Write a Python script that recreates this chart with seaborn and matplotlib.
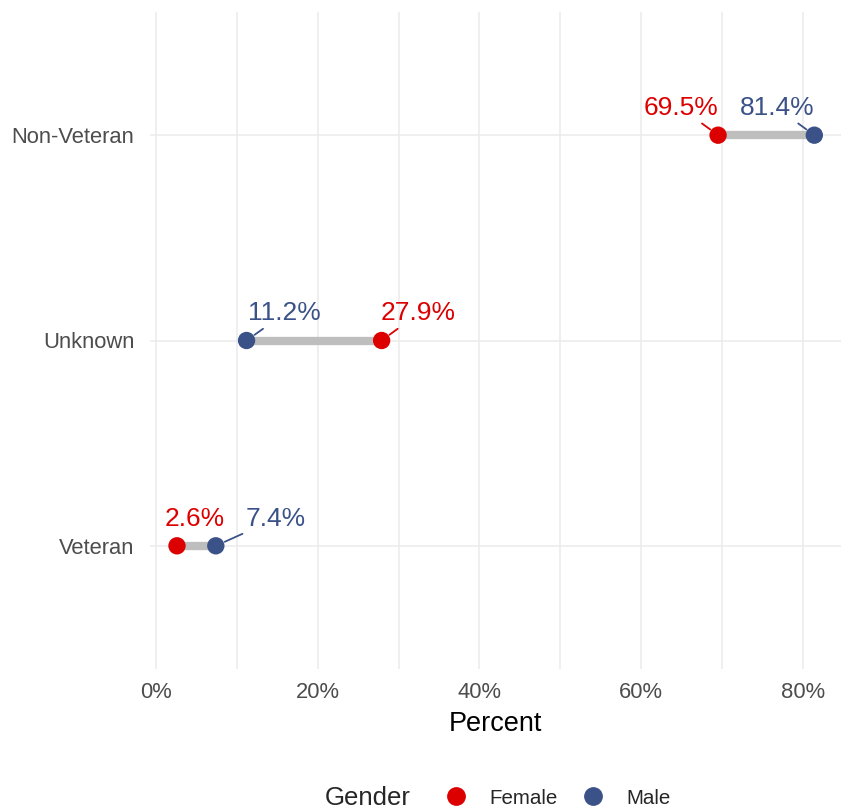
import numpy as np
import pandas as pd
import matplotlib
matplotlib.use("Agg")
import matplotlib.pyplot as plt
from matplotlib.lines import Line2D
from matplotlib.ticker import MultipleLocator, FuncFormatter
import seaborn as sns

# data
status = ["Non-Veteran", "Unknown", "Veteran"]
female = [69.5, 27.9, 2.6]
male = [81.4, 11.2, 7.4]
genders = ["Female", "Male"]

# label nudges (pixels) as placed by the repel in the original
female_nudge = [(-37, 27), (37, 27), (18, 27)]
male_nudge = [(-37, 27), (38, 27), (60, 27)]
female_segment = [True, True, False]
male_segment = [True, True, True]

colors = {"Female": "#DD0000", "Male": "#3B5289"}

sns.set_theme(style="white")
plt.rcParams["font.family"] = ["Liberation Sans", "DejaVu Sans"]

df = pd.DataFrame({
    "Status": status * 2,
    "Percent": female + male,
    "Gender": ["Female"] * 3 + ["Male"] * 3,
})

fig = plt.figure(figsize=(8.41, 8.10), dpi=100)
W, H = 841, 810
left, right, top, bottom = 149.5, 841, 12, 669
ax = fig.add_axes([left / W, 1 - bottom / H, (right - left) / W, (bottom - top) / H])

# gray connecting segment
ypos = np.arange(len(status))
ax.hlines(ypos, np.minimum(female, male), np.maximum(female, male),
          color="#BEBEBE", lw=6, zorder=1)

sns.stripplot(data=df, x="Percent", y="Status", hue="Gender", order=status,
              hue_order=genders, palette=colors, jitter=False, size=12.5,
              linewidth=0, ax=ax, legend=False, zorder=3)

px2pt = 0.72
for i in range(len(status)):
    for vals, nudges, segs, g in [(female, female_nudge, female_segment, "Female"),
                                   (male, male_nudge, male_segment, "Male")]:
        dx, dy = nudges[i]
        ap = None
        if segs[i]:
            ap = dict(arrowstyle="-", color=colors[g], lw=1.3, shrinkA=0, shrinkB=7)
        ax.annotate(f"{vals[i]}%", xy=(vals[i], i), xytext=(dx * px2pt, dy * px2pt),
                    textcoords="offset points", ha="center", va="center",
                    fontsize=19, color=colors[g], arrowprops=ap, zorder=4)

ax.set_xlim(-0.8, 84.7)
ax.set_ylim(len(status) - 0.4, -0.6)
ax.xaxis.set_major_locator(MultipleLocator(20))
ax.xaxis.set_minor_locator(MultipleLocator(10))
ax.xaxis.set_major_formatter(FuncFormatter(lambda v, p: f"{v:.0f}%"))
ax.grid(True, which="both", axis="x", color="#EBEBEB", lw=1.1)
ax.grid(True, which="major", axis="y", color="#EBEBEB", lw=1.1)
ax.set_axisbelow(True)
for s in ax.spines.values():
    s.set_visible(False)
ax.tick_params(axis="both", which="both", length=0, labelsize=15.8, labelcolor="#4D4D4D")
ax.tick_params(axis="x", pad=9)
ax.tick_params(axis="y", pad=11)
ax.set_xlabel("Percent", fontsize=19.5, color="black", labelpad=6)
ax.set_ylabel("")

# legend at the bottom with title on the left
handles = [Line2D([], [], marker="o", ls="", ms=12.5, color=colors[g]) for g in genders]
fig.text(368 / W, 1 - 798 / H, "Gender", fontsize=18.5, ha="center", va="center")
fig.legend(handles, genders, loc="center", bbox_to_anchor=(553 / W, 1 - 798 / H),
           ncol=2, frameon=False, fontsize=14.8, handletextpad=0.65, columnspacing=0.7)

fig.savefig("out.png", dpi=100)
